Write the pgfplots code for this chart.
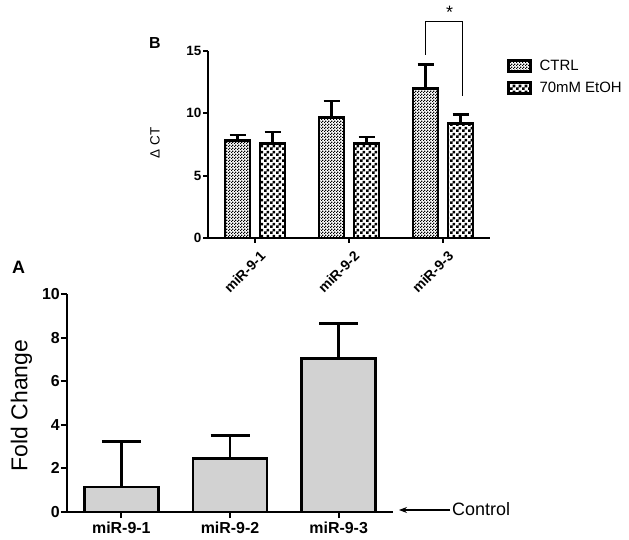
\documentclass[border=0pt]{standalone}
\usepackage{fontspec}
\setmainfont{Liberation Sans}
\usepackage{pgfplots}
\pgfplotsset{compat=1.18}
\usetikzlibrary{patterns,arrows.meta}
\pgfdeclarepatternformonly{finecheck}{\pgfpointorigin}{\pgfqpoint{3bp}{3bp}}{\pgfqpoint{3bp}{3bp}}{%
  \pgfpathrectangle{\pgfpointorigin}{\pgfqpoint{1.5bp}{1.5bp}}%
  \pgfpathrectangle{\pgfqpoint{1.5bp}{1.5bp}}{\pgfqpoint{1.5bp}{1.5bp}}%
  \pgfusepath{fill}}
\pgfdeclarepatternformonly{coarsecheck}{\pgfpointorigin}{\pgfqpoint{6bp}{6bp}}{\pgfqpoint{6bp}{6bp}}{%
  \pgfpathrectangle{\pgfpointorigin}{\pgfqpoint{3bp}{3bp}}%
  \pgfpathrectangle{\pgfqpoint{3bp}{3bp}}{\pgfqpoint{3bp}{3bp}}%
  \pgfusepath{fill}}
\begin{document}
\begin{tikzpicture}
\useasboundingbox (0bp,0bp) rectangle (629bp,540bp);
% ---------------- Panel A ----------------
\begin{axis}[
  at={(67bp,28bp)}, anchor=south west, scale only axis,
  width=326bp, height=218bp,
  xmin=-0.5, xmax=2.5, ymin=0, ymax=10,
  ybar, bar width=74bp,
  axis lines*=left, clip=false,
  axis line style={line width=2.6bp},
  every tick/.style={black, line width=2bp},
  tick align=outside, major tick length=6bp,
  xtick={0,1,2}, xticklabels={miR-9-1,miR-9-2,miR-9-3},
  ytick={0,2,4,6,8,10},
  /pgf/number format/assume math mode=true,
  tick label style={font=\fontsize{16}{18}\selectfont\bfseries},
  yticklabel style={inner sep=1bp},
  ylabel={Fold Change},
  ylabel style={font=\fontsize{23}{26}\selectfont, at={(axis description cs:-0.14,0.489)}, anchor=center},
]
\addplot[fill=gray!35, draw=black, line width=2.8bp,
  error bars/.cd, y dir=plus, y explicit,
  error bar style={line width=2.8bp, black},
  error mark options={line width=2.8bp, mark size=19.5bp, black, rotate=90}]
  coordinates {(0,1.15) +- (0,2.1) (1,2.45) +- (0,1.05) (2,7.05) +- (0,1.6)};
\end{axis}
\draw[-{Stealth[length=8bp,width=6bp]}, line width=1.1bp] (450bp,30bp) -- (399bp,30bp);
\node[anchor=west, font=\fontsize{18}{20}\selectfont, inner sep=1bp] at (451bp,30.5bp) {Control};
\node[font=\fontsize{18}{20}\selectfont\bfseries] at (18.5bp,273bp) {A};
% ---------------- Panel B ----------------
\begin{axis}[
  at={(208bp,302bp)}, anchor=south west, scale only axis,
  width=282bp, height=187bp,
  xmin=-0.5, xmax=2.5, ymin=0, ymax=15,
  ybar=10bp, bar width=25bp,
  axis lines*=left, clip=false,
  axis line style={line width=2.4bp},
  every tick/.style={black, line width=1.8bp},
  tick align=outside, major tick length=5bp,
  xtick={0,1,2}, xticklabels={miR-9-1,miR-9-2,miR-9-3},
  ytick={0,5,10,15},
  /pgf/number format/assume math mode=true,
  tick label style={font=\fontsize{13.5}{15}\selectfont\bfseries},
  xticklabel style={font=\fontsize{14}{15}\selectfont\bfseries, rotate=45, anchor=north east, inner sep=1bp, yshift=-7bp, xshift=-1bp},
  yticklabel style={inner sep=1.5bp},
  ylabel={Δ CT},
  ylabel style={font=\fontsize{13.5}{15}\selectfont, at={(axis description cs:-0.188,0.508)}, anchor=center},
  legend style={at={(axis description cs:1.05,0.99)}, anchor=north west, draw=none, fill=none,
    font=\fontsize{15}{16}\selectfont, row sep=0bp,
    nodes={inner sep=0bp}},
  legend cell align=left,
  legend image code/.code={\pgfpathmoveto{\pgfqpoint{0bp}{-11bp}}\pgfpathlineto{\pgfqpoint{31bp}{11bp}}\pgfusepath{}\draw[#1] (0bp,-5.5bp) rectangle (22bp,5.5bp);},
]
\addplot[pattern=finecheck, pattern color=black, draw=black, line width=2.6bp,
  error bars/.cd, y dir=plus, y explicit,
  error bar style={line width=2.6bp, black},
  error mark options={line width=2.6bp, mark size=8bp, black, rotate=90}]
  coordinates {(0,7.8) +- (0,0.45) (1,9.65) +- (0,1.35) (2,12.0) +- (0,1.9)};
\addlegendentry{CTRL}
\addplot[pattern=coarsecheck, pattern color=black, draw=black, line width=2.6bp,
  error bars/.cd, y dir=plus, y explicit,
  error bar style={line width=2.6bp, black},
  error mark options={line width=2.6bp, mark size=8bp, black, rotate=90}]
  coordinates {(0,7.6) +- (0,0.9) (1,7.6) +- (0,0.5) (2,9.2) +- (0,0.7)};
\addlegendentry{70mM EtOH}
\draw[line width=0.8bp] (axis cs:1.815,14.7) -- (axis cs:1.815,17.4) -- (axis cs:2.21,17.4) -- (axis cs:2.21,11.4);
\node[font=\fontsize{18}{20}\selectfont] at (axis cs:2.07,18.1) {*};
\end{axis}
\node[font=\fontsize{16}{18}\selectfont\bfseries] at (155bp,497bp) {B};
\end{tikzpicture}
\end{document}
